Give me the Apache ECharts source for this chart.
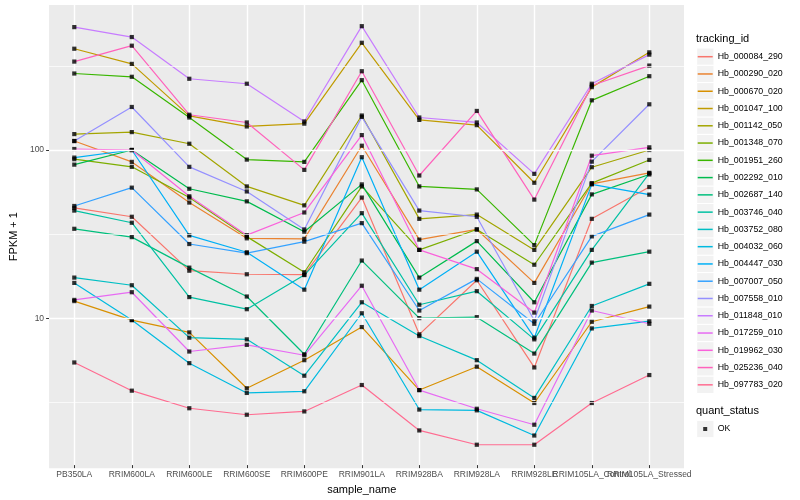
<!DOCTYPE html>
<html><head><meta charset="utf-8">
<script src="https://cdn.jsdelivr.net/npm/echarts@6/dist/echarts.min.js"></script>
<style>html,body{margin:0;padding:0;background:#fff}#c{width:800px;height:500px}</style>
</head><body><div id="c"></div>
<script>
const categories = ['PB350LA','RRIM600LA','RRIM600LE','RRIM600SE','RRIM600PE','RRIM901LA','RRIM928BA','RRIM928LA','RRIM928LE','RRIM105LA_Control','RRIM105LA_Stressed'];
const trackingIds = ['Hb_000084_290','Hb_000290_020','Hb_000670_020','Hb_001047_100','Hb_001142_050','Hb_001348_070','Hb_001951_260','Hb_002292_010','Hb_002687_140','Hb_003746_040','Hb_003752_080','Hb_004032_060','Hb_004447_030','Hb_007007_050','Hb_007558_010','Hb_011848_010','Hb_017259_010','Hb_019962_030','Hb_025236_040','Hb_097783_020'];

const Hb_000084_290 = [44.4, 39.3, 18.7, 17.8, 17.7, 51.2, 7.78, 16.4, 4.93, 38.2, 59.2];
const Hb_000290_020 = [111.6, 83.7, 47.8, 29.2, 29.0, 104.6, 28.7, 33.0, 15.8, 61.9, 72.0];
const Hb_000670_020 = [12.3, 9.47, 7.99, 3.70, 5.45, 8.60, 3.61, 4.98, 3.02, 9.25, 11.4];
const Hb_001047_100 = [398, 323, 157.7, 136.4, 141.8, 432, 149.3, 138.9, 62.8, 234.5, 378.6];
const Hb_001142_050 = [122.8, 126.2, 107.5, 59.7, 46.0, 158.6, 38.2, 40.5, 24.9, 77.8, 98.6];
const Hb_001348_070 = [86.9, 78.2, 51.2, 29.9, 18.3, 59.7, 24.9, 33.0, 20.3, 62.5, 86.0];
const Hb_001951_260 = [282.9, 270.4, 154.3, 86.4, 83.7, 258.1, 59.7, 57.3, 26.6, 195.5, 272.6];
const Hb_002292_010 = [80.6, 98.6, 57.8, 48.6, 32.0, 61.4, 17.0, 28.1, 12.1, 53.5, 70.4];
const Hb_002687_140 = [33.3, 29.7, 19.5, 13.1, 5.91, 21.5, 9.73, 9.86, 5.97, 20.9, 24.3];
const Hb_003746_040 = [42.8, 36.2, 13.0, 11.0, 17.6, 41.3, 11.7, 14.1, 7.26, 24.9, 71.5];
const Hb_003752_080 = [17.0, 15.3, 7.43, 7.26, 4.40, 12.1, 7.60, 5.45, 3.24, 11.5, 15.6];
const Hb_004032_060 = [15.8, 9.47, 5.23, 3.47, 3.55, 10.4, 2.76, 2.73, 1.93, 8.44, 9.34];
const Hb_004447_030 = [88.8, 98.6, 30.4, 24.1, 14.4, 89.3, 14.4, 24.3, 7.43, 61.4, 53.3];
const Hb_007007_050 = [45.6, 58.7, 27.0, 23.8, 27.9, 36.0, 10.8, 16.7, 9.00, 30.0, 40.5];
const Hb_007558_010 = [111.6, 178.4, 78.2, 55.7, 33.0, 155.6, 42.8, 39.3, 9.42, 84.0, 185.1];
const Hb_011848_010 = [536, 467.5, 263.1, 245.7, 146.1, 543, 154.3, 144.1, 71.0, 245.7, 366.8];
const Hb_017259_010 = [12.5, 13.9, 6.14, 6.73, 5.83, 15.2, 3.61, 2.79, 2.24, 10.8, 9.00];
const Hb_019962_030 = [100, 98.6, 52.1, 30.5, 41.7, 121.1, 24.9, 19.1, 10.5, 91.2, 102.3];
const Hb_025236_040 = [333.4, 415, 160.3, 144.1, 75.0, 291.9, 69.4, 168.9, 49.8, 240.0, 315.6];
const Hb_097783_020 = [5.28, 3.58, 2.81, 2.57, 2.69, 3.87, 2.07, 1.70, 1.70, 3.02, 4.44];

const seriesValues = [Hb_000084_290, Hb_000290_020, Hb_000670_020, Hb_001047_100, Hb_001142_050, Hb_001348_070, Hb_001951_260, Hb_002292_010, Hb_002687_140, Hb_003746_040, Hb_003752_080, Hb_004032_060, Hb_004447_030, Hb_007007_050, Hb_007558_010, Hb_011848_010, Hb_017259_010, Hb_019962_030, Hb_025236_040, Hb_097783_020];

const yMajorTicks = [10, 100];
const yMinorTicks = [3.1623, 31.623, 316.23];
const yMin = 1.284, yMax = 727;

const palette = ['#F8766D','#EA8331','#D89000','#C09B00','#A3A500','#7CAE00','#39B600','#00BB4E','#00BF7D','#00C1A3','#00BFC4','#00BAE0','#00B0F6','#35A2FF','#9590FF','#C77CFF','#E76BF3','#FA62DB','#FF62BC','#FF6C91'];

const FONT = 'Liberation Sans, Arial, Helvetica, sans-serif';
const legendTop = 48.07, legendStep = 17.27;

const series = [];
series.push({
  type: 'line', name: '_grid', xAxisIndex: 1, yAxisIndex: 1, data: [[0, 10]],
  showSymbol: false, symbol: 'none', lineStyle: {width: 0}, silent: true, z: 1,
  markLine: {
    silent: true, symbol: ['none', 'none'], label: {show: false}, emphasis: {disabled: true},
    lineStyle: {color: '#FFFFFF', type: 'solid'},
    data: yMajorTicks.map(v => ({yAxis: v, lineStyle: {width: 1.4, color: '#FFFFFF', type: 'solid'}}))
      .concat(yMinorTicks.map(v => ({yAxis: v, lineStyle: {width: 0.7, color: '#FFFFFF', type: 'solid'}})))
  }
});
trackingIds.forEach((id, i) => {
  series.push({
    type: 'line', name: id, data: seriesValues[i], xAxisIndex: 0, yAxisIndex: 0,
    symbol: 'none', showSymbol: false, silent: true, z: 2,
    lineStyle: {width: 1.2, color: palette[i]}, itemStyle: {color: palette[i]},
    emphasis: {disabled: true}
  });
});
const okPoints = [];
seriesValues.forEach(vals => vals.forEach((v, j) => okPoints.push([categories[j], v])));
series.push({
  type: 'scatter', name: 'OK', data: okPoints, xAxisIndex: 0, yAxisIndex: 0,
  symbol: 'rect', symbolSize: 4.2, itemStyle: {color: '#000000'}, z: 3, silent: true
});

const keyBoxes = [];
for (let i = 0; i < trackingIds.length; i++) {
  keyBoxes.push({type: 'rect', silent: true, z: -5,
    shape: {x: 696.7, y: legendTop + i * legendStep, width: 17.27, height: 17.27},
    style: {fill: '#F2F2F2', stroke: '#FFFFFF', lineWidth: 1}});
}
keyBoxes.push({type: 'rect', silent: true, z: -5,
  shape: {x: 696.7, y: 429 - 8.64, width: 17.27, height: 17.27},
  style: {fill: '#F2F2F2', stroke: '#FFFFFF', lineWidth: 1}});

const option = {
  animation: false,
  backgroundColor: '#FFFFFF',
  textStyle: {fontFamily: FONT},
  title: [
    {text: 'tracking_id', left: 696, top: 33.5, padding: 0, textStyle: {fontSize: 11, fontWeight: 'normal', color: '#000', fontFamily: FONT}},
    {text: 'quant_status', left: 696, top: 405.8, padding: 0, textStyle: {fontSize: 11, fontWeight: 'normal', color: '#000', fontFamily: FONT}}
  ],
  grid: [
    {left: 74.3, top: 5, width: 575, height: 463.3, show: false, containLabel: false},
    {left: 40, top: 5, width: 644, height: 463.3, show: true, backgroundColor: '#EBEBEB', borderWidth: 0, z: -1, containLabel: false}
  ],
  xAxis: [
    {type: 'category', gridIndex: 0, data: categories, boundaryGap: false,
     axisLine: {show: false},
     axisTick: {show: true, length: 3, lineStyle: {color: '#333333', width: 1}},
     axisLabel: {interval: 0, fontSize: 8.5, color: '#4D4D4D', margin: 5, fontFamily: FONT},
     splitLine: {show: true, lineStyle: {color: '#FFFFFF', width: 1.4}},
     name: 'sample_name', nameLocation: 'middle', nameGap: 14,
     nameTextStyle: {fontSize: 11, color: '#000', fontFamily: FONT}},
    {type: 'value', gridIndex: 1, min: 0, max: 1, show: false}
  ],
  yAxis: [
    {type: 'log', logBase: 10, gridIndex: 0, min: yMin, max: yMax, show: false},
    {type: 'log', logBase: 10, gridIndex: 1, min: yMin, max: yMax,
     axisLine: {show: false},
     axisTick: {show: true, length: 3, lineStyle: {color: '#333333', width: 1}},
     axisLabel: {fontSize: 8.5, color: '#4D4D4D', margin: 5, fontFamily: FONT,
       showMinLabel: false, showMaxLabel: false,
       formatter: v => (yMajorTicks.indexOf(Math.round(v)) >= 0 && Math.abs(v - Math.round(v)) < 1e-6) ? String(Math.round(v)) : ''},
     splitLine: {show: false}, minorTick: {show: false}, minorSplitLine: {show: false},
     name: 'FPKM + 1', nameLocation: 'middle', nameGap: 22, nameRotate: 90,
     nameTextStyle: {fontSize: 11, color: '#000', fontFamily: FONT}}
  ],
  legend: [
    {data: trackingIds, orient: 'vertical', left: 697.7, top: legendTop, padding: 0,
     itemWidth: 15, itemHeight: 1.5, itemGap: 0, icon: 'rect', selectedMode: false,
     itemStyle: {borderWidth: 0},
     textStyle: {fontSize: 8.8, color: '#000', lineHeight: legendStep, fontFamily: FONT}},
    {data: ['OK'], orient: 'vertical', left: 697.7, top: 429 - 7.5, padding: 0,
     itemWidth: 15, itemHeight: 15, itemGap: 0, selectedMode: false,
     icon: 'path://M0,0M15,15M5.5,5.5L9.5,5.5L9.5,9.5L5.5,9.5Z',
     itemStyle: {borderWidth: 0, color: '#000'},
     textStyle: {fontSize: 8.8, color: '#000', fontFamily: FONT}}
  ],
  graphic: keyBoxes,
  series: series
};
const chart = echarts.init(document.getElementById('c'), null, {renderer: 'canvas'});
chart.setOption(option);
</script>
</body></html>
